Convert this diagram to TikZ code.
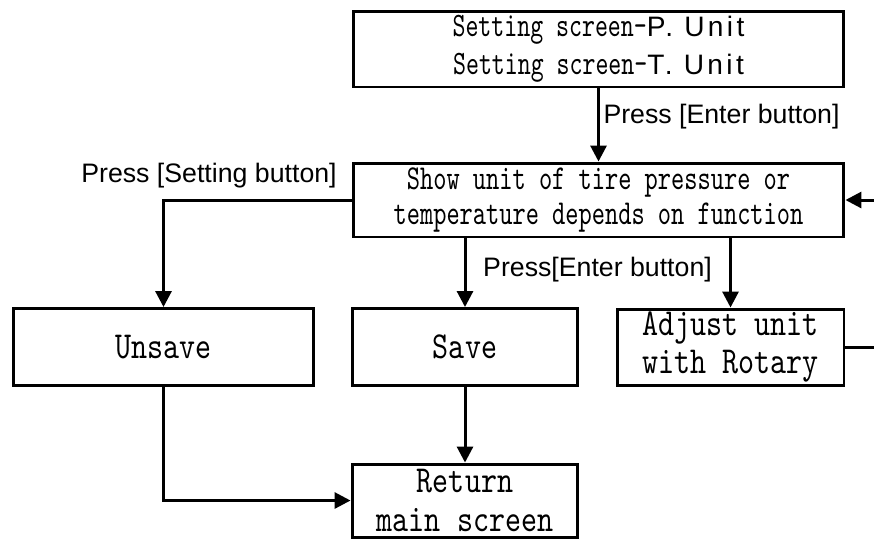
\documentclass[tikz,border=0pt]{standalone}
\usepackage{fontspec}
\setmainfont{Liberation Sans}
\newfontfamily\monof{lmmono10-regular.otf}[FakeStretch=0.72]
\newfontfamily\bigmonof{lmmono10-regular.otf}[FakeStretch=0.8]
\newfontfamily\unitf{Liberation Sans}[LetterSpace=12]
\usetikzlibrary{arrows.meta,positioning}

\begin{document}
\begin{tikzpicture}[x=0.02cm,y=-0.02cm,
	box/.style={draw,line width=1.7pt,inner sep=0pt,align=center},
	arr/.style={line width=1.7pt,-{Triangle[length=9pt,width=9pt]}},
	lbl/.style={font=\fontsize{15.2}{18}\selectfont,inner sep=0pt},
	midfont/.style={font=\monof\fontsize{19.9}{20}\selectfont},
	topfont/.style={font=\monof\fontsize{19.5}{21.6}\selectfont},
	bigfont/.style={font=\bigmonof\fontsize{21.7}{22}\selectfont}]
	\path[use as bounding box,clip] (0,0) rectangle (874,539);
	\node[box,topfont,minimum width=9.82cm,minimum height=1.52cm] (setting) at (598.5,49)
	{Setting screen-{\unitf\fontsize{16}{18}\selectfont P. Unit}\\Setting screen-{\unitf\fontsize{16}{18}\selectfont T. Unit}};
	\node[box,midfont,minimum width=9.82cm,minimum height=1.48cm] (show) at (598.5,200)
	{Show unit of tire pressure or\\temperature depends on function};
	\node[box,bigfont,minimum width=6.02cm,minimum height=1.54cm] (unsave) at (163.5,347) {Unsave};
	\node[box,bigfont,minimum width=4.52cm,minimum height=1.54cm] (save) at (465,347) {Save};
	\node[box,bigfont,minimum width=4.54cm,minimum height=1.52cm] (adjust) at (730.5,347) {Adjust unit\\with Rotary};
	\node[box,bigfont,minimum width=4.52cm,minimum height=1.46cm] (return) at (465,500.5) {Return\\main screen};
	\draw[arr] (setting) -- (show) node[lbl,anchor=west] (enter1) at (602,117) {Press [Enter button]};
	\draw[arr] (show.west) -| (unsave.north);
	\node[lbl,anchor=east] (setbtn) at (337,176) {Press [Setting button]};
	\draw[arr] (show.south -| save.north) -- (save.north);
	\draw[arr] (show.south -| adjust.north) -- (adjust.north);
	\node[lbl] (enter2) at (597.5,270) {Press[Enter button]};
	\draw[arr] (adjust.east) -- ++(40,0) |- (show.east);
	\draw[arr] (save) -- (return);
	\draw[arr] (unsave.south) |- (return.west);
\end{tikzpicture}
\end{document}
